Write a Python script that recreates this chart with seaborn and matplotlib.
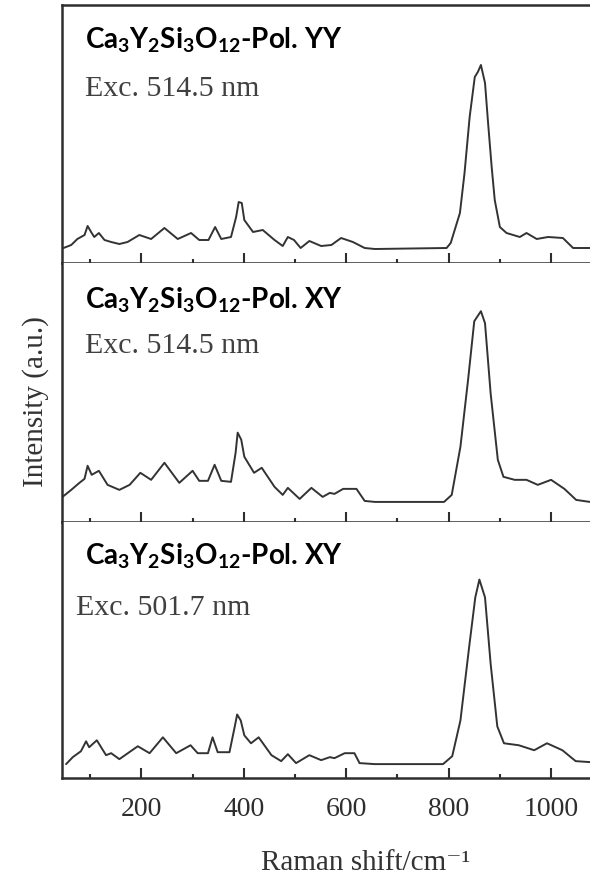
import matplotlib
matplotlib.use("Agg")
import matplotlib.pyplot as plt
from matplotlib.ticker import MultipleLocator
import seaborn as sns

# Raman spectra (x in cm-1, intensity in a.u.)
shift_yy = [43, 63, 75, 89, 95, 103, 108, 117, 128, 141, 157, 173, 196, 219, 245, 271,
            297, 313, 331, 344, 356, 375, 385, 390, 396, 401, 418, 437, 460, 476, 486, 498,
            511, 528, 551, 571, 590, 613, 636, 656, 796, 804, 822, 831, 841, 851, 857, 863,
            871, 877, 884, 890, 900, 913, 939, 952, 972, 994, 1023, 1043, 1076]
int_yy = [14, 18, 24, 28, 37, 30, 26, 30, 23, 21, 19, 21, 28, 24, 35, 24,
          30, 23, 23, 36, 24, 26, 46, 61, 60, 43, 31, 33, 23, 17, 26, 23,
          15, 22, 17, 18, 25, 21, 15, 14, 15, 20, 50, 90, 146, 186, 191, 198,
          180, 140, 96, 63, 36, 30, 26, 30, 24, 26, 25, 15, 15]

shift_xy1 = [46, 63, 79, 89, 95, 103, 117, 134, 157, 177, 198, 219, 245, 274, 300, 313,
             330, 343, 356, 375, 384, 388, 395, 401, 420, 435, 460, 476, 486, 509, 532, 554,
             568, 577, 594, 620, 636, 656, 791, 806, 823, 838, 850, 863, 871, 882, 896, 907,
             929, 952, 974, 1000, 1026, 1049, 1076]
int_xy1 = [25, 32, 39, 43, 56, 47, 51, 37, 32, 37, 49, 42, 59, 39, 51, 41,
           41, 57, 41, 40, 69, 89, 82, 65, 49, 54, 35, 27, 34, 23, 34, 25,
           29, 28, 33, 33, 21, 20, 20, 27, 75, 142, 200, 210, 198, 128, 62, 45,
           42, 42, 37, 42, 33, 22, 20]

shift_xy2 = [53, 66, 82, 92, 98, 113, 131, 141, 157, 193, 216, 242, 268, 296, 310, 330,
             339, 349, 372, 382, 387, 394, 401, 414, 429, 454, 473, 486, 502, 528, 551, 568,
             577, 597, 616, 626, 656, 789, 807, 823, 840, 852, 860, 871, 882, 895, 908, 937,
             967, 992, 1022, 1048, 1076]
int_xy2 = [14, 21, 27, 37, 31, 38, 23, 25, 19, 32, 25, 41, 25, 33, 25, 25,
           41, 26, 26, 51, 64, 58, 43, 35, 41, 23, 17, 24, 15, 23, 18, 21,
           20, 25, 25, 15, 14, 14, 22, 58, 132, 182, 200, 182, 115, 52, 35, 33,
           28, 35, 28, 17, 16]

titles = [r"$\mathrm{Ca_3Y_2Si_3O_{12}}$-Pol. YY",
          r"$\mathrm{Ca_3Y_2Si_3O_{12}}$-Pol. XY",
          r"$\mathrm{Ca_3Y_2Si_3O_{12}}$-Pol. XY"]
excitations = ["Exc. 514.5 nm", "Exc. 514.5 nm", "Exc. 501.7 nm"]
spectra = [(shift_yy, int_yy), (shift_xy1, int_xy1), (shift_xy2, int_xy2)]

sns.set_style("ticks")
plt.rcParams["mathtext.fontset"] = "custom"
plt.rcParams["mathtext.rm"] = "Lato:bold"
plt.rcParams["mathtext.it"] = "Lato:bold"
plt.rcParams["mathtext.bf"] = "Lato:bold"

W, H = 590, 876
fig = plt.figure(figsize=(W / 100, H / 100), dpi=100)

tops = [5, 263, 522]
bots = [263, 522, 778]
title_y = [0.833, 0.826, 0.833]
exc_y = [0.647, 0.651, 0.636]
exc_x = [0.044, 0.044, 0.027]
edge = "#2e2e2e"

for i in range(3):
    ax = fig.add_axes([62 / W, 1 - bots[i] / H, 1 - 62 / W, (bots[i] - tops[i]) / H])
    x, y = spectra[i]
    sns.lineplot(x=x, y=y, ax=ax, color="#333333", lw=1.4, sort=False, estimator=None)
    ax.set_xlim(45, 1076)
    ax.set_ylim(0, 258)
    ax.set_xlabel("")
    ax.set_ylabel("")
    ax.xaxis.set_major_locator(MultipleLocator(200))
    ax.xaxis.set_minor_locator(MultipleLocator(100))
    ax.tick_params(axis="x", which="major", direction="in", length=7, width=1.5,
                   colors=edge, labelsize=20, pad=14, labelbottom=(i == 2))
    ax.tick_params(axis="x", which="minor", direction="in", length=3, width=1.5, colors=edge)
    ax.tick_params(axis="y", left=False, labelleft=False)
    for lab in ax.get_xticklabels():
        lab.set_fontfamily("Liberation Serif")
    ax.spines["right"].set_visible(False)
    ax.spines["top"].set_visible(i == 0)
    for s in ["left", "bottom", "top"]:
        ax.spines[s].set_linewidth(1.8)
        ax.spines[s].set_color(edge)
    ax.text(0.044, title_y[i], titles[i], transform=ax.transAxes, fontsize=20,
            fontfamily="Lato", fontweight="bold", color="black", va="baseline")
    ax.text(exc_x[i], exc_y[i], excitations[i], transform=ax.transAxes, fontsize=21.5,
            fontfamily="Liberation Serif", color="#404040", va="baseline")

fig.text(366 / W, 1 - 863 / H, "Raman shift/cm\u207b\u00b9", ha="center", va="center",
         fontsize=21, family=["Liberation Serif", "DejaVu Serif"], color="#333333")
fig.text(36 / W, 1 - 402 / H, "Intensity (a.u.)", ha="center", va="center", rotation=90,
         fontsize=21, family="Liberation Serif", color="#333333")

fig.savefig("out.png", dpi=100)
